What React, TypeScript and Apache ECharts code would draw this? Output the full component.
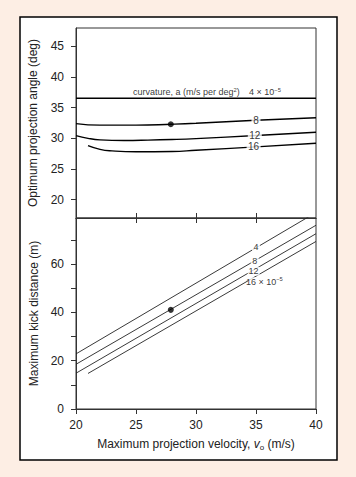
import React, { useEffect, useRef } from "react";
import * as echarts from "echarts";

// ---- data ----
const velocityRange = [20, 40];
const angleTicks = [20, 25, 30, 35, 40, 45];
const distanceTicks = [0, 10, 20, 30, 40, 50, 60, 70];
const distanceLabels = [0, 20, 40, 60];
const velocityTicks = [20, 25, 30, 35, 40];
const dividerTicks = [25, 30, 35];

// optimum projection angle (deg) vs velocity, by curvature
const angle4 = [[20, 36.55], [40, 36.55]];
const angle8 = [[20, 32.4], [22, 32.15], [25, 32.15], [28, 32.3], [30, 32.45], [35, 32.95], [40, 33.35]];
const angle12 = [[20, 30.45], [21, 30.0], [22, 29.75], [24, 29.65], [26, 29.7], [28, 29.8], [30, 29.95], [35, 30.45], [40, 31.0]];
const angle16 = [[21, 28.8], [22, 28.2], [23, 27.95], [25, 27.8], [28, 27.85], [30, 28.05], [35, 28.6], [40, 29.2]];
const angleDot = [[27.9, 32.3]];

// maximum kick distance (m) vs velocity, by curvature
const dist4 = [[20, 22.8], [40, 81.3]];
const dist8 = [[20, 18.5], [40, 76.0]];
const dist12 = [[20, 14.8], [40, 72.5]];
const dist16 = [[21, 14.7], [40, 69.3]];
const distDot = [[27.9, 41.0]];

// curve labels
const angleCurveLabels = [
  { value: [35.0, 32.95], text: "8", gap: 9 },
  { value: [34.9, 30.45], text: "12", gap: 14 },
  { value: [34.8, 28.6], text: "16", gap: 14 },
];
const angleHeader = [
  { value: [29.2, 37.5], text: "curvature, a (m/s per deg{sup|2})", gap: 0 },
  { value: [35.75, 37.5], text: "4 × 10{sup|−5}", gap: 0 },
];
const distCurveLabels = [
  { value: [35.0, 66.8], text: "4", gap: 8 },
  { value: [34.9, 61.3], text: "8", gap: 8 },
  { value: [34.8, 57.0], text: "12", gap: 12 },
  { value: [35.7, 52.6], text: "16 × 10{sup|−5}", gap: 32 },
];

export default function App() {
  const ref = useRef<HTMLDivElement>(null);
  useEffect(() => {
    const chart = echarts.init(ref.current!, null, { renderer: "svg" });
    const axisColor = "#333";
    const font = "Liberation Sans";
    const lineSeries = (data: number[][], xi: number, yi: number, width: number, color: string, smooth: boolean) => ({
      type: "line",
      data,
      xAxisIndex: xi,
      yAxisIndex: yi,
      showSymbol: false,
      symbol: "none",
      smooth,
      clip: true,
      itemStyle: { color },
      lineStyle: { color, width },
      z: 2,
    });
    const labelSeries = (items: { value: number[]; text: string; gap: number }[], xi: number, yi: number, size: number) => ({
      type: "scatter",
      xAxisIndex: xi,
      yAxisIndex: yi,
      symbol: "rect",
      z: 5,
      itemStyle: { color: "#ffffff" },
      label: {
        show: true,
        position: ["50%", "50%"],
        align: "center",
        verticalAlign: "middle",
        formatter: (p: any) => items[p.dataIndex].text,
        color: "#000",
        textBorderWidth: 0,
        fontSize: size,
        fontFamily: font,
        rich: {
          sup: {
            fontSize: size * 0.65,
            verticalAlign: "top",
            padding: [0, 0, 5, 0],
            color: "#000",
          },
        },
      },
      data: items.map((d) => ({ value: d.value, symbolSize: [d.gap, d.gap ? size : 0] })),
    });
    const dotSeries = (data: number[][], xi: number, yi: number) => ({
      type: "scatter",
      xAxisIndex: xi,
      yAxisIndex: yi,
      data,
      symbolSize: 6,
      itemStyle: { color: "#000" },
      z: 6,
    });
    chart.setOption({
      animation: false,
      backgroundColor: "#fdeee4",
      textStyle: { fontFamily: font },
      graphic: {
        elements: [
          {
            type: "rect",
            z: -10,
            shape: { x: 20, y: 17, width: 317, height: 443 },
            style: { fill: "#ffffff", stroke: "#000", lineWidth: 1.5 },
          },
        ],
      },
      grid: [
        { left: 76, top: 28, width: 240, height: 190, show: true, borderColor: axisColor, borderWidth: 1, backgroundColor: "transparent" },
        { left: 76, top: 218, width: 240, height: 191, show: true, borderColor: axisColor, borderWidth: 1, backgroundColor: "transparent" },
      ],
      xAxis: [
        {
          type: "value",
          gridIndex: 0,
          position: "bottom",
          min: velocityRange[0],
          max: velocityRange[1],
          axisLine: { lineStyle: { color: axisColor } },
          axisTick: { show: true, length: 5, customValues: dividerTicks, lineStyle: { color: axisColor } },
          axisLabel: { show: false },
          splitLine: { show: false },
        },
        {
          type: "value",
          gridIndex: 1,
          position: "bottom",
          min: velocityRange[0],
          max: velocityRange[1],
          axisLine: { lineStyle: { color: axisColor } },
          axisTick: { show: true, length: 5, customValues: velocityTicks, lineStyle: { color: axisColor } },
          axisLabel: { customValues: velocityTicks, fontSize: 12, color: "#222", margin: 10 },
          splitLine: { show: false },
          name: "Maximum projection velocity, {i|v}{s|o} (m/s)",
          nameLocation: "middle",
          nameGap: 28,
          nameTextStyle: {
            fontSize: 12,
            color: "#222",
            rich: {
              i: { fontSize: 12, fontStyle: "italic", color: "#222" },
              s: { fontSize: 8, color: "#222", verticalAlign: "bottom", padding: [6, 0, 0, 0] },
            },
          },
        },
        {
          type: "value",
          gridIndex: 1,
          position: "top",
          min: velocityRange[0],
          max: velocityRange[1],
          axisLine: { lineStyle: { color: axisColor } },
          axisTick: { show: true, length: 5, customValues: dividerTicks, lineStyle: { color: axisColor } },
          axisLabel: { show: false },
          splitLine: { show: false },
        },
      ],
      yAxis: [
        {
          type: "value",
          gridIndex: 0,
          min: 17,
          max: 48,
          axisLine: { show: true, lineStyle: { color: axisColor } },
          axisTick: { show: true, length: 5, customValues: angleTicks, lineStyle: { color: axisColor } },
          axisLabel: { customValues: angleTicks, fontSize: 12, color: "#222", margin: 12 },
          splitLine: { show: false },
          name: "Optimum projection angle (deg)",
          nameLocation: "middle",
          nameGap: 37,
          nameTextStyle: { fontSize: 12, color: "#222" },
        },
        {
          type: "value",
          gridIndex: 1,
          min: 0,
          max: 79,
          axisLine: { show: true, lineStyle: { color: axisColor } },
          axisTick: { show: true, length: 5, customValues: distanceTicks, lineStyle: { color: axisColor } },
          axisLabel: { customValues: distanceLabels, fontSize: 12, color: "#222", margin: 12 },
          splitLine: { show: false },
          name: "Maximum kick distance (m)",
          nameLocation: "middle",
          nameGap: 35,
          nameTextStyle: { fontSize: 12, color: "#222" },
        },
      ],
      series: [
        lineSeries(angle4, 0, 0, 1.4, "#000", false),
        lineSeries(angle8, 0, 0, 1.4, "#000", true),
        lineSeries(angle12, 0, 0, 1.4, "#000", true),
        lineSeries(angle16, 0, 0, 1.4, "#000", true),
        dotSeries(angleDot, 0, 0),
        labelSeries(angleCurveLabels, 0, 0, 10),
        labelSeries(angleHeader, 0, 0, 9),
        lineSeries(dist4, 1, 1, 0.9, "#222", false),
        lineSeries(dist8, 1, 1, 0.9, "#222", false),
        lineSeries(dist12, 1, 1, 0.9, "#222", false),
        lineSeries(dist16, 1, 1, 0.9, "#222", false),
        dotSeries(distDot, 1, 1),
        labelSeries(distCurveLabels, 1, 1, 9),
      ],
    });
    return () => chart.dispose();
  }, []);
  return <div ref={ref} style={{ position: "fixed", left: 0, top: 0, width: 356, height: 477 }} />;
}
